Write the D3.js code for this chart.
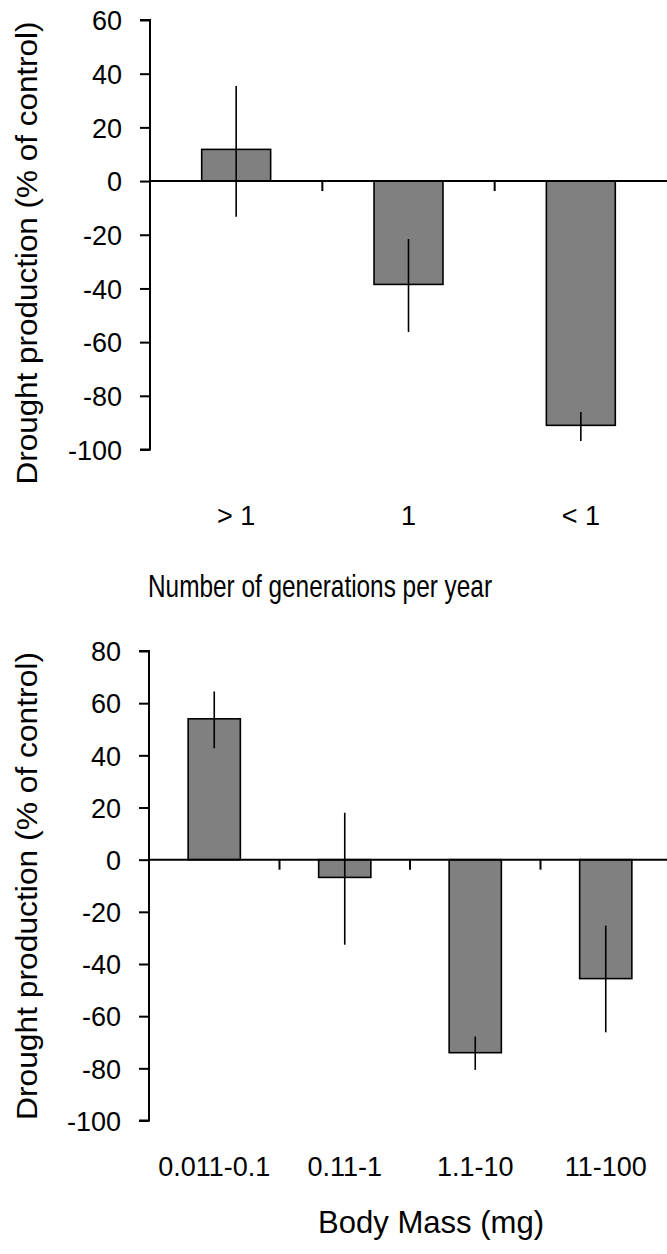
<!DOCTYPE html>
<html>
<head>
<meta charset="utf-8">
<script src="https://cdn.jsdelivr.net/npm/d3@7"></script>
<style>
  html, body { margin: 0; padding: 0; background: #fff; }
  svg { display: block; }
  text { font-family: "Liberation Sans", Arial, sans-serif; fill: #000; }
</style>
</head>
<body>
<svg id="chart" width="667" height="1254"></svg>
<script>
// Panel 1: drought production by number of generations per year
const genCategories = ["> 1", "1", "< 1"];
const genMeans = [11.8, -38.5, -91];
const genUpper = [35.4, -21.6, -86];
const genLower = [-13.3, -56.2, -96.8];
const genTicks = [60, 40, 20, 0, -20, -40, -60, -80, -100];

// Panel 2: drought production by body mass class
const massCategories = ["0.011-0.1", "0.11-1", "1.1-10", "11-100"];
const massMeans = [54, -6.8, -74, -45.6];
const massUpper = [64.5, 18, -67.8, -25.3];
const massLower = [42.7, -32.6, -80.6, -66.2];
const massTicks = [80, 60, 40, 20, 0, -20, -40, -60, -80, -100];

const yTitle = "Drought production (% of control)";

const svg = d3.select("#chart");

function drawPanel(cfg) {
  const g = svg.append("g");
  const y = d3.scaleLinear().domain(cfg.yDomain).range(cfg.yRange);
  const x = d3.scaleBand().domain(cfg.categories).range(cfg.xRange).padding(0);
  const barW = x.bandwidth() * 0.4;
  const data = cfg.categories.map((c, i) => ({
    c, v: cfg.means[i], hi: cfg.upper[i], lo: cfg.lower[i]
  }));

  // bars
  g.selectAll("rect.bar").data(data).enter().append("rect")
    .attr("class", "bar")
    .attr("x", d => x(d.c) + (x.bandwidth() - barW) / 2)
    .attr("width", barW)
    .attr("y", d => y(Math.max(0, d.v)))
    .attr("height", d => Math.abs(y(d.v) - y(0)))
    .attr("fill", "#808080")
    .attr("stroke", "#000")
    .attr("stroke-width", 1.6);

  // error bars (no caps)
  g.selectAll("line.err").data(data).enter().append("line")
    .attr("class", "err")
    .attr("x1", d => x(d.c) + x.bandwidth() / 2)
    .attr("x2", d => x(d.c) + x.bandwidth() / 2)
    .attr("y1", d => y(d.hi))
    .attr("y2", d => y(d.lo))
    .attr("stroke", "#000")
    .attr("stroke-width", 1.6);

  // y axis (plain hyphen for negative labels)
  const yAxis = d3.axisLeft(y).tickValues(cfg.ticks).tickSize(10).tickPadding(18)
    .tickFormat(d => String(d));
  const ya = g.append("g")
    .attr("transform", `translate(${cfg.xRange[0]},0)`)
    .call(yAxis);
  ya.select(".domain").attr("stroke-width", 2).attr("d",
    `M-10,${y(cfg.ticks[0])}H0V${y(cfg.ticks[cfg.ticks.length - 1])}H-10`);
  ya.selectAll(".tick line").attr("stroke-width", 2);
  ya.selectAll(".tick text")
    .attr("font-size", 27)
    .attr("font-family", "'Liberation Sans', Arial, sans-serif")
    .attr("dy", "0.36em");

  // zero baseline with category separator ticks
  const zeroY = y(0);
  g.append("line")
    .attr("x1", cfg.xRange[0]).attr("x2", 667)
    .attr("y1", zeroY).attr("y2", zeroY)
    .attr("stroke", "#000").attr("stroke-width", 2);
  const seps = cfg.categories.slice(1).map(c => x(c));
  g.selectAll("line.sep").data(seps).enter().append("line")
    .attr("class", "sep")
    .attr("x1", d => d).attr("x2", d => d)
    .attr("y1", zeroY).attr("y2", zeroY + 10)
    .attr("stroke", "#000").attr("stroke-width", 2);

  // category labels
  g.selectAll("text.cat").data(cfg.categories).enter().append("text")
    .attr("class", "cat")
    .attr("x", d => x(d) + x.bandwidth() / 2)
    .attr("y", cfg.catY)
    .attr("text-anchor", "middle")
    .attr("font-size", 27)
    .text(d => d);

  // x title
  g.append("text")
    .attr("x", cfg.xTitleX)
    .attr("y", cfg.xTitleY)
    .attr("text-anchor", "middle")
    .attr("font-size", 32)
    .attr("textLength", cfg.xTitleLen)
    .attr("lengthAdjust", "spacingAndGlyphs")
    .text(cfg.xTitle);

  // y title
  g.append("text")
    .attr("transform", `translate(37,${cfg.yTitleY}) rotate(-90)`)
    .attr("text-anchor", "middle")
    .attr("font-size", 30)
    .attr("textLength", cfg.yTitleLen)
    .attr("lengthAdjust", "spacingAndGlyphs")
    .text(yTitle);
}

drawPanel({
  categories: genCategories, means: genMeans, upper: genUpper, lower: genLower,
  ticks: genTicks, yDomain: [-100, 60], yRange: [449.5, 20],
  xRange: [150, 667], catY: 525,
  xTitle: "Number of generations per year", xTitleX: 320, xTitleY: 597, xTitleLen: 344,
  yTitleY: 253, yTitleLen: 463
});

drawPanel({
  categories: massCategories, means: massMeans, upper: massUpper, lower: massLower,
  ticks: massTicks, yDomain: [-100, 80], yRange: [1120.5, 651],
  xRange: [149, 671], catY: 1176,
  xTitle: "Body Mass (mg)", xTitleX: 431, xTitleY: 1233, xTitleLen: 226,
  yTitleY: 886, yTitleLen: 468
});
</script>
</body>
</html>
